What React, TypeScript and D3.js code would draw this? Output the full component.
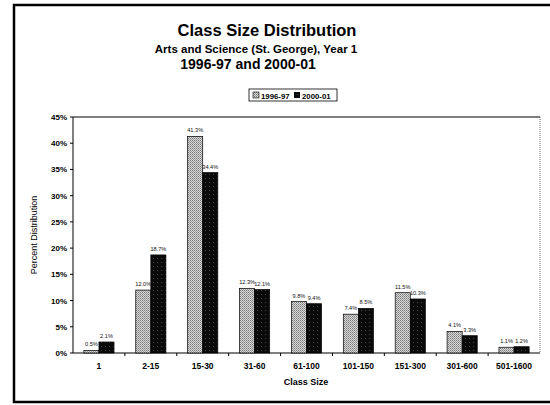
import React from "react";
import * as d3 from "d3";

const categories = ["1", "2-15", "15-30", "31-60", "61-100", "101-150", "151-300", "301-600", "501-1600"];
const series9697 = [0.5, 12.0, 41.3, 12.3, 9.8, 7.4, 11.5, 4.1, 1.1];
const series0001 = [2.1, 18.7, 34.4, 12.1, 9.4, 8.5, 10.3, 3.3, 1.2];
const seriesNames = ["1996-97", "2000-01"];
const yTicks = [0, 5, 10, 15, 20, 25, 30, 35, 40, 45];

const W = 550;
const H = 405;
const plot = { left: 73, right: 540, top: 117, bottom: 353 };
const font = "Liberation Sans, Arial, sans-serif";

export default function App() {
  const x = d3.scaleBand<string>().domain(categories).range([plot.left, plot.right]).paddingInner(0).paddingOuter(0);
  const inner = d3.scaleBand<string>().domain(seriesNames).range([0, x.bandwidth()]).paddingOuter(0.72).paddingInner(0);
  const y = d3.scaleLinear().domain([0, 45]).range([plot.bottom, plot.top]);
  const data = [series9697, series0001];
  const fills = ["url(#light)", "url(#dark)"];

  return (
    <svg width={W} height={H} style={{ position: "absolute", left: 0, top: 0 }}>
      <defs>
        <pattern id="light" width="2" height="2" patternUnits="userSpaceOnUse">
          <rect width="2" height="2" fill="#d8d8d8" />
          <rect width="1" height="1" fill="#7a7a7a" />
          <rect x="1" y="1" width="1" height="1" fill="#9a9a9a" />
        </pattern>
        <pattern id="dark" width="4" height="4" patternUnits="userSpaceOnUse">
          <rect width="4" height="4" fill="#0a0a0a" />
          <rect x="1" y="2" width="1" height="1" fill="#444" />
        </pattern>
      </defs>
      <rect x={0} y={0} width={W} height={H} fill="#fff" />
      {/* outer frame */}
      <rect x={14} y={5} width={W + 10} height={397} fill="none" stroke="#000" strokeWidth={2.5} />

      {/* titles */}
      <text x={267} y={36} textAnchor="middle" fontFamily={font} fontWeight="bold" fontSize={16.5}>Class Size Distribution</text>
      <text x={256} y={53} textAnchor="middle" fontFamily={font} fontWeight="bold" fontSize={11.5}>Arts and Science (St. George), Year 1</text>
      <text x={248} y={69} textAnchor="middle" fontFamily={font} fontWeight="bold" fontSize={14}>1996-97 and 2000-01</text>

      {/* legend */}
      <g>
        <rect x={249} y={89} width={88} height={12} fill="#fff" stroke="#000" strokeWidth={0.8} />
        <rect x={253} y={92} width={6} height={6} fill="url(#light)" stroke="#000" strokeWidth={0.6} />
        <text x={261} y={98.5} fontFamily={font} fontWeight="bold" fontSize={7.8}>{seriesNames[0]}</text>
        <rect x={294} y={92} width={6} height={6} fill="url(#dark)" />
        <text x={302} y={98.5} fontFamily={font} fontWeight="bold" fontSize={7.8}>{seriesNames[1]}</text>
      </g>

      {/* plot border */}
      <line x1={plot.left} x2={plot.right} y1={plot.top} y2={plot.top} stroke="#000" strokeWidth={1} />
      <line x1={plot.right} x2={plot.right} y1={plot.top} y2={plot.bottom} stroke="#444" strokeWidth={0.8} strokeDasharray="1 1" />
      <line x1={plot.left} x2={plot.left} y1={plot.top} y2={plot.bottom} stroke="#000" strokeWidth={1} />
      <line x1={plot.left} x2={plot.right} y1={plot.bottom} y2={plot.bottom} stroke="#000" strokeWidth={1} />

      {/* y ticks */}
      {yTicks.map((t) => (
        <g key={t}>
          <line x1={plot.left - 3} x2={plot.left} y1={y(t)} y2={y(t)} stroke="#000" />
          <text x={plot.left - 6} y={y(t) + 3} textAnchor="end" fontFamily={font} fontWeight="bold" fontSize={8}>{t}%</text>
        </g>
      ))}

      {/* x ticks */}
      {categories.map((c, i) => (
        <g key={c}>
          {i > 0 && <line x1={x(c)!} x2={x(c)!} y1={plot.bottom} y2={plot.bottom + 3} stroke="#000" />}
          <text x={x(c)! + x.bandwidth() / 2} y={plot.bottom + 16} textAnchor="middle" fontFamily={font} fontWeight="bold" fontSize={8.5}>{c}</text>
        </g>
      ))}

      {/* bars */}
      {categories.map((c, i) =>
        seriesNames.map((s, j) => {
          const v = data[j][i];
          const bx = x(c)! + inner(s)!;
          const bw = inner.bandwidth();
          return (
            <g key={c + s}>
              <rect x={bx} y={y(v)} width={bw} height={y(0) - y(v)} fill={fills[j]} stroke="#000" strokeWidth={0.7} />
              <text x={bx + bw / 2} y={y(v) - 4} textAnchor="middle" fontFamily={font} fontSize={5.6} fill="#111">{v.toFixed(1)}%</text>
            </g>
          );
        })
      )}

      {/* axis titles */}
      <text x={306} y={385} textAnchor="middle" fontFamily={font} fontWeight="bold" fontSize={9}>Class Size</text>
      <text transform={`translate(37,${(plot.top + plot.bottom) / 2}) rotate(-90)`} textAnchor="middle" fontFamily={font} fontSize={9}>Percent Distribution</text>
    </svg>
  );
}
